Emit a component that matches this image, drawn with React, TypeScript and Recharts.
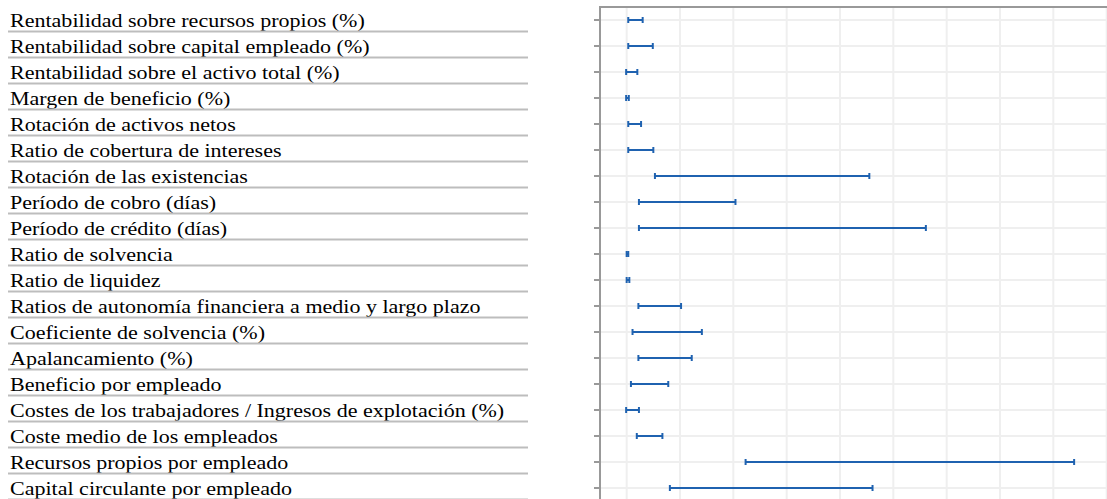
import React from "react";
import { BarChart, Bar, XAxis, YAxis, CartesianGrid } from "recharts";

const categories = [
  "Rentabilidad sobre recursos propios (%)",
  "Rentabilidad sobre capital empleado (%)",
  "Rentabilidad sobre el activo total (%)",
  "Margen de beneficio (%)",
  "Rotación de activos netos",
  "Ratio de cobertura de intereses",
  "Rotación de las existencias",
  "Período de cobro (días)",
  "Período de crédito (días)",
  "Ratio de solvencia",
  "Ratio de liquidez",
  "Ratios de autonomía financiera a medio y largo plazo",
  "Coeficiente de solvencia (%)",
  "Apalancamiento (%)",
  "Beneficio por empleado",
  "Costes de los trabajadores / Ingresos de explotación (%)",
  "Coste medio de los empleados",
  "Recursos propios por empleado",
  "Capital circulante por empleado",
];

const lowValues = [0.3, 0.3, -0.1, -0.1, 0.3, 0.3, 5.3, 2.3, 2.3, 0.0, 0.0, 2.2, 1.1, 2.2, 0.8, -0.1, 1.9, 22.3, 8.1];
const highValues = [3.0, 4.9, 2.0, 0.4, 2.7, 5.0, 45.5, 20.4, 56.1, 0.3, 0.5, 10.2, 14.1, 12.2, 7.8, 2.3, 6.7, 83.9, 46.1];

const xTicks = [0, 10, 20, 30, 40, 50, 60, 70, 80, 90];

const data = categories.map((name, i) => ({
  name,
  range: [lowValues[i], highValues[i]],
}));

const BLUE = "#1f62b0";

const RangeShape = (props: any) => {
  const { x, y, width, height } = props;
  const cy = y + height / 2;
  const x1 = x;
  const x2 = x + width;
  return (
    <g>
      <line x1={x1} y1={cy} x2={x2} y2={cy} stroke={BLUE} strokeWidth={2} />
      <line x1={x1} y1={cy - 3} x2={x1} y2={cy + 3} stroke={BLUE} strokeWidth={2} />
      <line x1={x2} y1={cy - 3} x2={x2} y2={cy + 3} stroke={BLUE} strokeWidth={2} />
    </g>
  );
};

const LabelTick = (props: any) => {
  const { y, payload } = props;
  return (
    <g>
      <text
        x={0}
        y={0}
        transform={`translate(10, ${y + 6.5}) scale(1.13, 1)`}
        fontFamily="'Liberation Serif', 'Times New Roman', serif"
        fontSize={19.5}
        fill="#000"
        textAnchor="start"
      >
        {payload.value}
      </text>
      <line x1={8} x2={528} y1={y + 11.5} y2={y + 11.5} stroke="#bdbdbd" strokeWidth={2} />
    </g>
  );
};

const EmptyTick = () => <g />;

export default function App() {
  return (
    <div style={{ position: "absolute", left: 0, top: 0, width: 1107, height: 499, overflow: "hidden", background: "#fff" }}>
      <div style={{ position: "absolute", left: 0, top: 0 }}>
        <BarChart
          width={1120}
          height={520}
          data={data}
          layout="vertical"
          margin={{ top: 0, right: 0, bottom: 19, left: 0 }}
          barCategoryGap={0}
        >
          <CartesianGrid stroke="#efefef" strokeWidth={2} />
          <XAxis
            type="number"
            orientation="top"
            domain={[-5, 92.5]}
            ticks={xTicks}
            tick={<EmptyTick />}
            tickLine={false}
            height={7}
            axisLine={{ stroke: "#999", strokeWidth: 2 }}
            allowDataOverflow
          />
          <YAxis
            type="category"
            dataKey="name"
            width={600}
            tickSize={6}
            tickLine={{ stroke: "#999", strokeWidth: 2 }}
            axisLine={{ stroke: "#999", strokeWidth: 2 }}
            tick={<LabelTick />}
            interval={0}
          />
          <Bar dataKey="range" shape={<RangeShape />} isAnimationActive={false} />
        </BarChart>
      </div>
      <div style={{ position: "absolute", left: 599, top: 6, width: 508, height: 2, background: "#999", zIndex: 5 }} />
    </div>
  );
}
